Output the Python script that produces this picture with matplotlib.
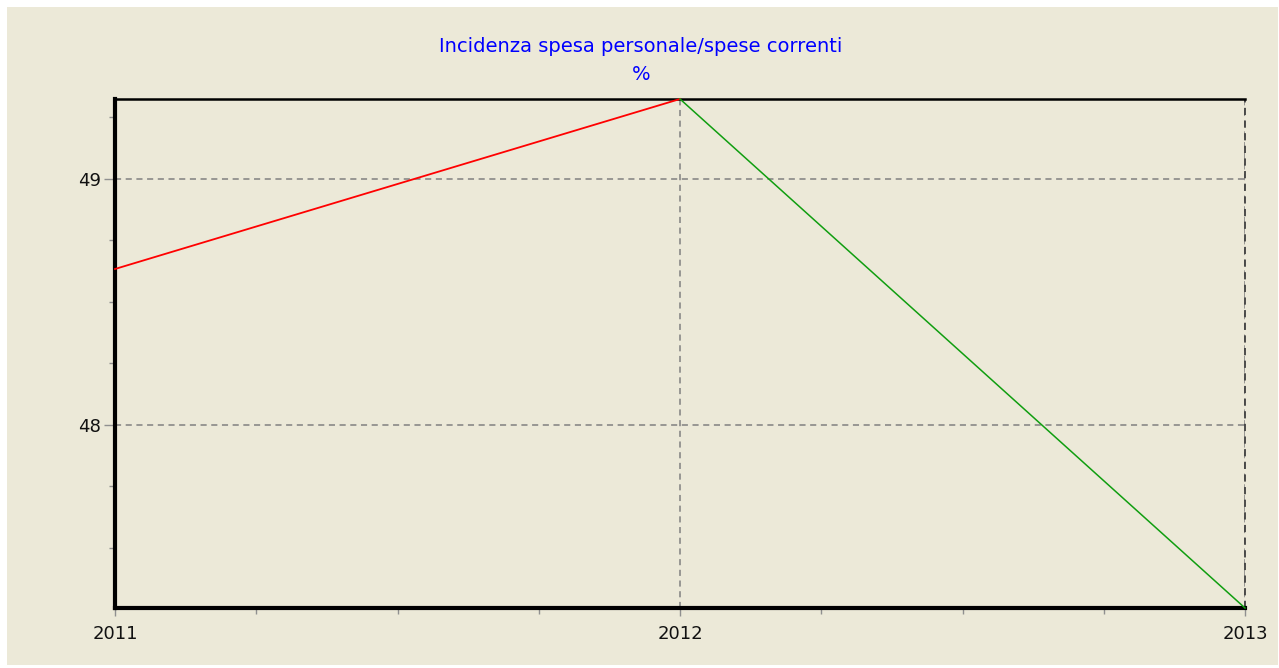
import matplotlib
matplotlib.use("Agg")
import matplotlib.pyplot as plt
from matplotlib.patches import Rectangle
from matplotlib.ticker import MultipleLocator, FixedLocator

years = [2011, 2012, 2013]
values = [48.634, 49.325, 47.256]
title_line1 = "Incidenza spesa personale/spese correnti"
title_line2 = "%"
bg = "#ECE9D8"

W, H = 1279, 668
fig = plt.figure(figsize=(12.79, 6.68), dpi=100, facecolor="white")
fig.patches.append(Rectangle((7/W, 1-665/H), (1278-7)/W, (665-7)/H,
                             transform=fig.transFigure, facecolor=bg,
                             edgecolor="none", zorder=-10))
ax = fig.add_axes([115/W, 1-608/H, (1245-115)/W, (608-99)/H])
ax.set_zorder(1)
ax.set_facecolor(bg)

# red rising segment, green falling segment
ax.plot(years[0:2], values[0:2], color="#FF0000", lw=1.3, zorder=3, clip_on=False)
ax.plot(years[1:3], values[1:3], color="#109E10", lw=1.1, zorder=3, clip_on=False)

ax.set_xlim(years[0], years[-1])
ax.set_ylim(min(values), max(values))

ax.xaxis.set_major_locator(FixedLocator(years))
ax.xaxis.set_minor_locator(MultipleLocator(0.25))
ax.yaxis.set_major_locator(FixedLocator([48, 49]))
ax.yaxis.set_minor_locator(MultipleLocator(0.25))
ax.set_xticklabels([str(y) for y in years])

ax.grid(True, which="major", color="#808080", ls=(0, (4, 3)), lw=1.1)
ax.tick_params(axis="both", which="major", labelsize=13, color="#909090",
               length=8, width=1, labelcolor="#111111", direction="out")
ax.tick_params(axis="both", which="minor", color="#909090", length=4, width=1)
ax.tick_params(axis="x", which="major", pad=6, length=6)
ax.tick_params(axis="y", which="major", pad=2)

for s in ["left", "bottom"]:
    ax.spines[s].set_linewidth(3)
    ax.spines[s].set_color("black")
ax.spines["top"].set_linewidth(1.8)
ax.spines["top"].set_color("black")
ax.spines["right"].set_visible(False)
ax.axvline(years[-1], color="#404040", ls=(0, (4, 3)), lw=1.3, clip_on=False)

fig.text(641/W, 1-46/H, title_line1, ha="center", va="center",
         color="#0000FF", fontsize=14)
fig.text(641/W, 1-74/H, title_line2, ha="center", va="center",
         color="#0000FF", fontsize=14)

fig.savefig("out.png", dpi=100, facecolor="white")
